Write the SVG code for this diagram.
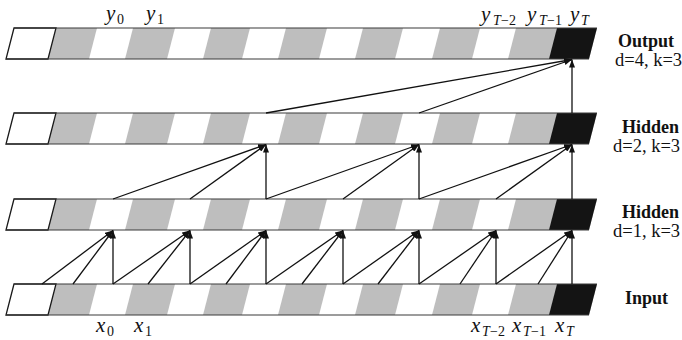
<svg xmlns="http://www.w3.org/2000/svg" xmlns:xlink="http://www.w3.org/1999/xlink" width="682" height="340" viewBox="0 0 682 340">
<style>
.g{fill:#bebebe}
.w{fill:#ffffff}
.k{fill:#141414}
.edge{stroke:#3a3a3a;stroke-width:1.2;fill:none}
.first{fill:#ffffff;stroke:#1a1a1a;stroke-width:1.3}
.c{stroke:#111;stroke-width:1.3;fill:none;marker-end:url(#ah)}
.lab{font-family:"Liberation Serif",serif;font-weight:bold;font-size:18px;fill:#111}
.sub{font-family:"Liberation Serif",serif;font-size:18.5px;fill:#111}
.m{font-family:"Liberation Serif",serif;font-style:italic;font-size:21px;fill:#111}
.s{font-size:14px;font-style:normal}
.si{font-size:14px;font-style:italic}
</style>
<defs>
<marker id="ah" viewBox="0 0 8 6" refX="8" refY="3" markerWidth="8" markerHeight="6" markerUnits="userSpaceOnUse" orient="auto">
<path d="M0,0 L8,3 L0,6 Z" fill="#111"/>
</marker>
<g id="bar">
<polygon class="g" points="14,0 597,0 589,31 6,31"/>
<polygon class="first" points="14,0 56,0 48,31 6,31"/>
<polygon class="w" points="97,0 133,0 125,31 89,31"/>
<polygon class="w" points="175,0 211,0 203,31 167,31"/>
<polygon class="w" points="250,0 286,0 278,31 242,31"/>
<polygon class="w" points="327,0 363,0 355,31 319,31"/>
<polygon class="w" points="403,0 440,0 432,31 395,31"/>
<polygon class="w" points="480,0 516,0 508,31 472,31"/>
<polygon class="k" points="557,0 597,0 589,31 549,31"/>
<line class="edge" x1="14" y1="0" x2="597" y2="0"/>
<line class="edge" x1="6" y1="31" x2="589" y2="31"/>
</g>
</defs>
<rect width="682" height="340" fill="#ffffff"/>
<g id="output">
<use xlink:href="#bar" transform="translate(0,28)"/>
<text class="m" x="106" y="20">y<tspan class="s" x="117" y="24">0</tspan></text>
<text class="m" x="146" y="20">y<tspan class="s" x="157" y="24">1</tspan></text>
<text class="m" x="481" y="21">y<tspan class="si" x="493" y="25">T</tspan><tspan class="s" x="501" y="25">−2</tspan></text>
<text class="m" x="527" y="21">y<tspan class="si" x="539" y="25">T</tspan><tspan class="s" x="547" y="25">−1</tspan></text>
<text class="m" x="570" y="21">y<tspan class="si" x="581" y="25">T</tspan></text>
<text class="lab" x="618" y="47">Output</text>
<text class="sub" x="615" y="66">d=4, k=3</text>
</g>
<g id="hidden2">
<use xlink:href="#bar" transform="translate(0,113)"/>
<text class="lab" x="622" y="133">Hidden</text>
<text class="sub" x="613" y="152">d=2, k=3</text>
</g>
<g id="hidden1">
<use xlink:href="#bar" transform="translate(0,199)"/>
<text class="lab" x="622" y="218">Hidden</text>
<text class="sub" x="613" y="237">d=1, k=3</text>
</g>
<g id="input">
<use xlink:href="#bar" transform="translate(0,284)"/>
<text class="m" x="96" y="332">x<tspan class="s" x="107" y="336">0</tspan></text>
<text class="m" x="134" y="332">x<tspan class="s" x="145" y="336">1</tspan></text>
<text class="m" x="471" y="332">x<tspan class="si" x="482" y="336">T</tspan><tspan class="s" x="490" y="336">−2</tspan></text>
<text class="m" x="512" y="332">x<tspan class="si" x="523" y="336">T</tspan><tspan class="s" x="531" y="336">−1</tspan></text>
<text class="m" x="555" y="332">x<tspan class="si" x="566" y="336">T</tspan></text>
<text class="lab" x="625" y="304">Input</text>
</g>
<g id="connectors">
<line class="c" x1="42" y1="284" x2="113" y2="230.5"/>
<line class="c" x1="73" y1="284" x2="113" y2="230.5"/>
<line class="c" x1="113" y1="284" x2="113" y2="230.5"/>
<line class="c" x1="113" y1="284" x2="190" y2="230.5"/>
<line class="c" x1="148" y1="284" x2="190" y2="230.5"/>
<line class="c" x1="190" y1="284" x2="190" y2="230.5"/>
<line class="c" x1="190" y1="284" x2="266" y2="230.5"/>
<line class="c" x1="226" y1="284" x2="266" y2="230.5"/>
<line class="c" x1="266" y1="284" x2="266" y2="230.5"/>
<line class="c" x1="266" y1="284" x2="343" y2="230.5"/>
<line class="c" x1="302" y1="284" x2="343" y2="230.5"/>
<line class="c" x1="343" y1="284" x2="343" y2="230.5"/>
<line class="c" x1="343" y1="284" x2="419" y2="230.5"/>
<line class="c" x1="378" y1="284" x2="419" y2="230.5"/>
<line class="c" x1="419" y1="284" x2="419" y2="230.5"/>
<line class="c" x1="419" y1="284" x2="496" y2="230.5"/>
<line class="c" x1="460" y1="284" x2="496" y2="230.5"/>
<line class="c" x1="496" y1="284" x2="496" y2="230.5"/>
<line class="c" x1="496" y1="284" x2="572" y2="230.5"/>
<line class="c" x1="538" y1="284" x2="572" y2="230.5"/>
<line class="c" x1="572" y1="284" x2="572" y2="230.5"/>
<line class="c" x1="113" y1="199" x2="266" y2="144.5"/>
<line class="c" x1="190" y1="199" x2="266" y2="144.5"/>
<line class="c" x1="266" y1="199" x2="266" y2="144.5"/>
<line class="c" x1="266" y1="199" x2="419" y2="144.5"/>
<line class="c" x1="343" y1="199" x2="419" y2="144.5"/>
<line class="c" x1="419" y1="199" x2="419" y2="144.5"/>
<line class="c" x1="419" y1="199" x2="572" y2="144.5"/>
<line class="c" x1="496" y1="199" x2="572" y2="144.5"/>
<line class="c" x1="572" y1="199" x2="572" y2="144.5"/>
<line class="c" x1="266" y1="113" x2="572" y2="59.5"/>
<line class="c" x1="419" y1="113" x2="572" y2="59.5"/>
<line class="c" x1="572" y1="113" x2="572" y2="59.5"/>
</g>
</svg>
